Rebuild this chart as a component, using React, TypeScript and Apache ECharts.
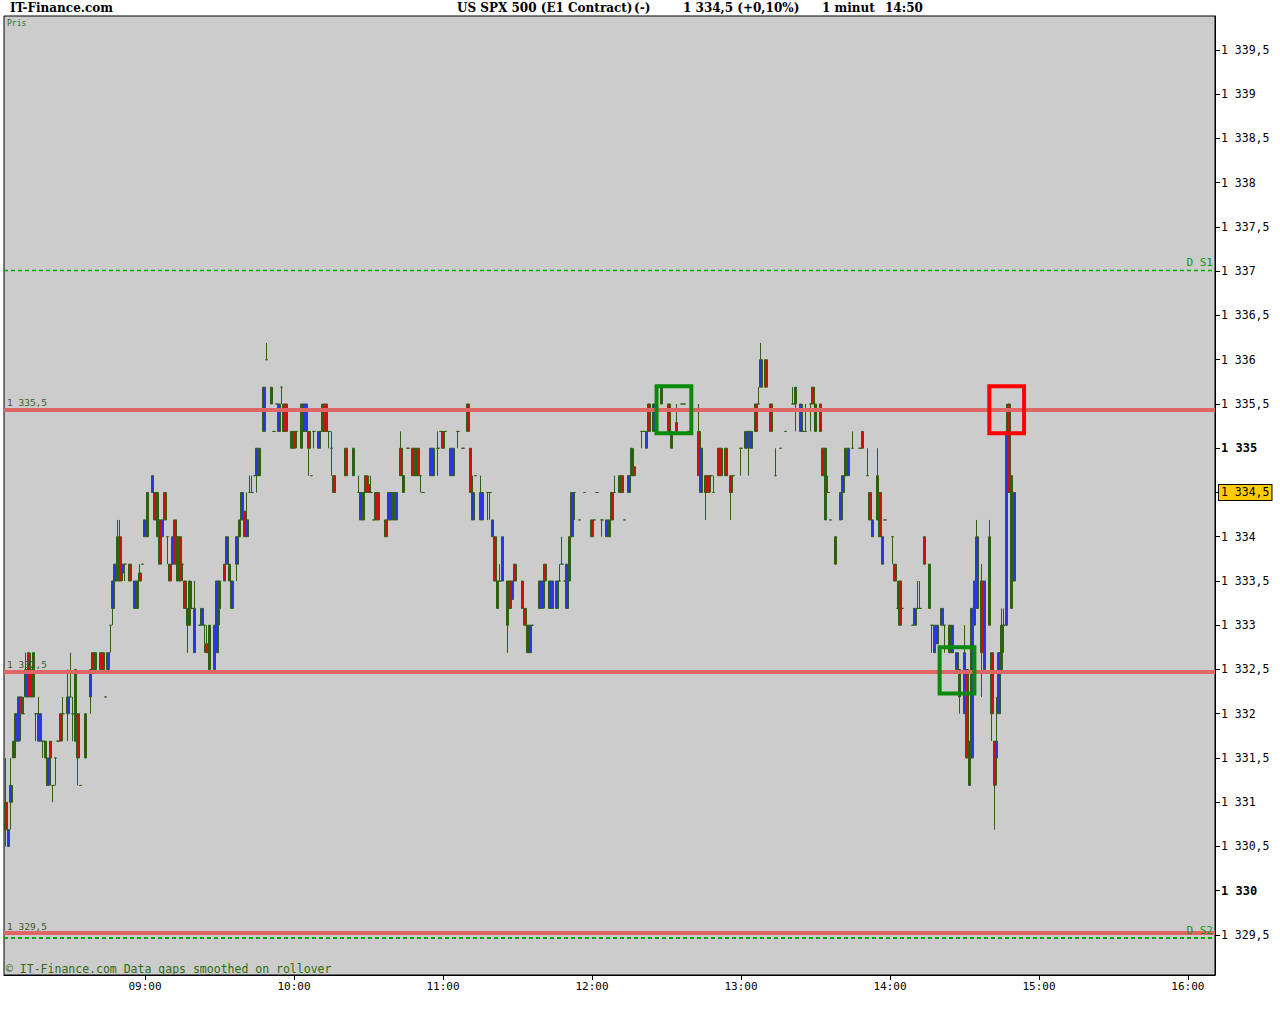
import React, { useEffect, useRef } from "react";
import * as echarts from "echarts";

// [time, open, close, low, high]
const bars0800: [string, number, number, number, number][] = [
  ["08:04", 1331.0, 1330.69, 1330.5, 1331.5],
  ["08:05", 1330.5, 1330.69, 1330.5, 1330.69],
  ["08:06", 1331.0, 1331.19, 1330.69, 1331.5],
  ["08:07", 1331.5, 1331.69, 1331.5, 1331.69],
  ["08:08", 1331.69, 1332.0, 1331.5, 1332.0],
  ["08:09", 1331.69, 1332.19, 1331.69, 1332.19],
  ["08:10", 1332.19, 1332.0, 1331.69, 1332.19],
  ["08:11", 1332.0, 1332.0, 1332.0, 1332.19],
  ["08:12", 1332.19, 1332.5, 1332.19, 1332.69],
  ["08:13", 1332.69, 1332.19, 1332.19, 1332.69],
  ["08:14", 1332.5, 1332.19, 1332.19, 1332.69],
  ["08:15", 1332.69, 1332.19, 1332.19, 1332.69],
  ["08:16", 1332.0, 1332.0, 1331.69, 1332.0],
  ["08:17", 1331.69, 1332.0, 1331.69, 1332.19],
  ["08:18", 1331.69, 1332.0, 1331.69, 1332.0],
  ["08:19", 1331.69, 1331.69, 1331.5, 1331.69],
  ["08:20", 1331.69, 1331.5, 1331.5, 1331.69],
  ["08:21", 1331.19, 1331.5, 1331.19, 1331.5],
  ["08:22", 1331.69, 1331.5, 1331.19, 1331.69],
  ["08:23", 1331.19, 1331.19, 1331.0, 1331.19],
  ["08:24", 1331.5, 1331.5, 1331.19, 1331.5],
  ["08:25", 1331.69, 1331.69, 1331.69, 1331.69],
  ["08:26", 1332.0, 1331.69, 1331.69, 1332.0],
  ["08:27", 1332.0, 1332.0, 1331.69, 1332.19],
  ["08:29", 1332.0, 1332.19, 1331.69, 1332.5],
  ["08:30", 1332.19, 1332.19, 1332.19, 1332.69],
  ["08:31", 1332.0, 1332.0, 1331.69, 1332.19],
  ["08:32", 1332.5, 1331.69, 1331.69, 1332.5],
  ["08:33", 1332.0, 1331.5, 1331.19, 1332.0],
  ["08:34", 1331.19, 1331.19, 1331.19, 1331.19],
  ["08:36", 1331.5, 1332.0, 1331.5, 1332.0],
  ["08:38", 1332.19, 1332.5, 1332.0, 1332.5],
  ["08:39", 1332.69, 1332.5, 1332.5, 1332.69],
  ["08:40", 1332.69, 1332.5, 1332.5, 1332.69],
  ["08:42", 1332.69, 1332.5, 1332.5, 1332.69],
  ["08:43", 1332.69, 1332.5, 1332.5, 1332.69],
  ["08:44", 1332.19, 1332.19, 1332.19, 1332.19],
  ["08:45", 1332.5, 1332.69, 1332.5, 1332.69],
  ["08:46", 1333.0, 1333.0, 1332.69, 1333.0],
  ["08:47", 1333.19, 1333.5, 1333.0, 1333.5],
  ["08:48", 1333.5, 1333.69, 1333.5, 1333.69],
  ["08:49", 1334.0, 1333.5, 1333.5, 1334.19],
  ["08:50", 1334.0, 1333.5, 1333.5, 1334.19],
  ["08:51", 1333.59, 1333.69, 1333.5, 1333.69],
  ["08:52", 1333.69, 1333.69, 1333.5, 1333.69],
  ["08:54", 1333.69, 1333.5, 1333.5, 1333.69],
  ["08:56", 1333.19, 1333.5, 1333.19, 1333.5],
  ["08:57", 1333.19, 1333.5, 1333.19, 1333.5],
  ["08:58", 1333.59, 1333.5, 1333.5, 1333.69],
  ["08:59", 1333.69, 1333.69, 1333.69, 1333.69],
];

const bars0900: [string, number, number, number, number][] = [
  ["09:00", 1334.0, 1334.19, 1334.0, 1334.19],
  ["09:01", 1334.5, 1334.0, 1334.0, 1334.5],
  ["09:03", 1334.5, 1334.69, 1334.5, 1334.69],
  ["09:04", 1334.5, 1334.19, 1334.19, 1334.5],
  ["09:05", 1334.5, 1334.0, 1334.0, 1334.5],
  ["09:06", 1334.19, 1333.69, 1333.69, 1334.19],
  ["09:07", 1334.0, 1334.19, 1334.0, 1334.19],
  ["09:08", 1334.5, 1334.19, 1334.19, 1334.5],
  ["09:09", 1334.0, 1334.0, 1333.69, 1334.0],
  ["09:10", 1333.69, 1333.5, 1333.5, 1333.69],
  ["09:11", 1333.69, 1334.0, 1333.69, 1334.0],
  ["09:12", 1334.19, 1333.69, 1333.69, 1334.19],
  ["09:13", 1334.0, 1333.5, 1333.5, 1334.0],
  ["09:14", 1334.0, 1333.5, 1333.5, 1334.0],
  ["09:15", 1333.69, 1333.69, 1333.5, 1333.69],
  ["09:16", 1333.5, 1333.19, 1333.19, 1333.5],
  ["09:17", 1333.0, 1333.19, 1332.69, 1333.19],
  ["09:18", 1333.5, 1333.0, 1333.0, 1333.5],
  ["09:19", 1333.19, 1333.19, 1333.19, 1333.5],
  ["09:20", 1332.69, 1333.19, 1332.69, 1333.5],
  ["09:22", 1333.0, 1333.0, 1333.0, 1333.0],
  ["09:23", 1333.0, 1333.19, 1333.0, 1333.19],
  ["09:24", 1333.0, 1333.0, 1332.69, 1333.0],
  ["09:25", 1332.79, 1332.69, 1332.69, 1333.0],
  ["09:26", 1332.5, 1333.0, 1332.5, 1333.0],
  ["09:28", 1332.5, 1333.0, 1332.5, 1333.0],
  ["09:29", 1332.69, 1333.5, 1332.69, 1333.5],
  ["09:30", 1333.19, 1333.5, 1333.0, 1333.5],
  ["09:32", 1333.69, 1333.5, 1333.5, 1333.69],
  ["09:33", 1333.69, 1334.0, 1333.69, 1334.0],
  ["09:34", 1333.69, 1333.5, 1333.5, 1333.69],
  ["09:35", 1333.19, 1333.5, 1333.19, 1333.5],
  ["09:37", 1333.69, 1334.0, 1333.5, 1334.0],
  ["09:38", 1334.0, 1334.19, 1334.0, 1334.19],
  ["09:39", 1334.19, 1334.5, 1334.19, 1334.5],
  ["09:40", 1334.29, 1334.0, 1334.0, 1334.29],
  ["09:41", 1334.0, 1334.19, 1334.0, 1334.5],
  ["09:42", 1334.5, 1334.5, 1334.5, 1334.69],
  ["09:43", 1334.5, 1334.5, 1334.5, 1334.69],
  ["09:44", 1334.69, 1334.69, 1334.69, 1334.69],
  ["09:45", 1334.69, 1335.0, 1334.5, 1335.0],
  ["09:46", 1334.69, 1335.0, 1334.69, 1335.0],
  ["09:48", 1335.19, 1335.69, 1335.19, 1335.69],
  ["09:49", 1336.0, 1336.0, 1336.0, 1336.19],
  ["09:51", 1335.69, 1335.5, 1335.5, 1335.69],
  ["09:52", 1335.19, 1335.19, 1335.19, 1335.19],
  ["09:53", 1335.5, 1335.5, 1335.5, 1335.5],
  ["09:54", 1335.19, 1335.5, 1335.19, 1335.5],
  ["09:55", 1335.69, 1335.69, 1335.5, 1335.69],
  ["09:56", 1335.5, 1335.19, 1335.19, 1335.5],
  ["09:57", 1335.5, 1335.19, 1335.19, 1335.5],
  ["09:59", 1335.19, 1335.0, 1335.0, 1335.19],
];

const bars1000: [string, number, number, number, number][] = [
  ["10:00", 1335.19, 1335.0, 1335.0, 1335.19],
  ["10:01", 1335.19, 1335.19, 1335.0, 1335.19],
  ["10:03", 1335.5, 1335.0, 1335.0, 1335.5],
  ["10:04", 1335.19, 1335.5, 1335.19, 1335.5],
  ["10:05", 1335.19, 1335.5, 1335.19, 1335.5],
  ["10:06", 1335.19, 1335.0, 1334.69, 1335.19],
  ["10:07", 1334.69, 1334.69, 1334.69, 1334.69],
  ["10:08", 1335.19, 1335.19, 1335.0, 1335.19],
  ["10:10", 1335.0, 1335.19, 1335.0, 1335.19],
  ["10:11", 1335.19, 1335.19, 1335.19, 1335.5],
  ["10:12", 1335.5, 1335.19, 1335.19, 1335.5],
  ["10:13", 1335.5, 1335.19, 1335.19, 1335.5],
  ["10:14", 1335.19, 1335.19, 1335.0, 1335.19],
  ["10:15", 1335.0, 1335.0, 1334.69, 1335.19],
  ["10:16", 1334.69, 1334.5, 1334.5, 1334.69],
  ["10:21", 1335.0, 1334.69, 1334.69, 1335.0],
  ["10:24", 1335.0, 1334.69, 1334.69, 1335.0],
  ["10:26", 1334.5, 1334.5, 1334.5, 1334.69],
  ["10:27", 1334.19, 1334.5, 1334.19, 1334.5],
  ["10:28", 1334.19, 1334.5, 1334.19, 1334.5],
  ["10:29", 1334.69, 1334.5, 1334.5, 1334.69],
  ["10:30", 1334.59, 1334.5, 1334.5, 1334.69],
  ["10:31", 1334.5, 1334.5, 1334.5, 1334.69],
  ["10:32", 1334.19, 1334.19, 1334.19, 1334.19],
  ["10:33", 1334.5, 1334.19, 1334.19, 1334.5],
  ["10:34", 1334.5, 1334.19, 1334.19, 1334.5],
  ["10:37", 1334.19, 1334.0, 1334.0, 1334.19],
  ["10:38", 1334.19, 1334.5, 1334.19, 1334.5],
  ["10:39", 1334.19, 1334.5, 1334.19, 1334.5],
  ["10:40", 1334.19, 1334.5, 1334.19, 1334.5],
  ["10:41", 1334.19, 1334.5, 1334.19, 1334.5],
  ["10:43", 1335.0, 1334.69, 1334.69, 1335.19],
  ["10:44", 1334.5, 1334.69, 1334.5, 1334.69],
  ["10:46", 1335.0, 1335.0, 1335.0, 1335.0],
  ["10:48", 1335.0, 1334.69, 1334.69, 1335.0],
  ["10:49", 1335.0, 1334.69, 1334.69, 1335.0],
  ["10:50", 1335.0, 1334.69, 1334.69, 1335.0],
  ["10:51", 1334.69, 1334.69, 1334.5, 1334.69],
  ["10:52", 1334.5, 1334.5, 1334.5, 1334.5],
  ["10:55", 1334.69, 1335.0, 1334.69, 1335.0],
  ["10:56", 1334.69, 1335.0, 1334.69, 1335.0],
  ["10:58", 1335.0, 1335.0, 1334.69, 1335.19],
  ["10:59", 1335.19, 1335.19, 1335.19, 1335.19],
];

const bars1100: [string, number, number, number, number][] = [
  ["11:00", 1335.19, 1335.0, 1335.0, 1335.19],
  ["11:01", 1335.19, 1335.19, 1335.19, 1335.19],
  ["11:03", 1334.69, 1335.0, 1334.69, 1335.0],
  ["11:04", 1334.69, 1335.0, 1334.69, 1335.0],
  ["11:06", 1335.19, 1335.19, 1335.0, 1335.19],
  ["11:08", 1335.0, 1335.0, 1335.0, 1335.0],
  ["11:10", 1335.5, 1335.19, 1335.19, 1335.5],
  ["11:11", 1335.0, 1334.5, 1334.5, 1335.0],
  ["11:12", 1334.19, 1334.5, 1334.19, 1334.69],
  ["11:13", 1334.69, 1334.69, 1334.69, 1334.69],
  ["11:15", 1334.19, 1334.5, 1334.19, 1334.69],
  ["11:16", 1334.19, 1334.5, 1334.19, 1334.5],
  ["11:18", 1334.5, 1334.5, 1334.19, 1334.5],
  ["11:19", 1334.5, 1334.5, 1334.19, 1334.5],
  ["11:20", 1334.0, 1334.19, 1334.0, 1334.19],
  ["11:21", 1334.0, 1333.5, 1333.5, 1334.0],
  ["11:22", 1333.19, 1333.5, 1333.19, 1333.5],
  ["11:23", 1333.5, 1333.5, 1333.5, 1333.69],
  ["11:24", 1333.5, 1334.0, 1333.5, 1334.0],
  ["11:26", 1333.5, 1333.0, 1332.69, 1333.5],
  ["11:27", 1333.5, 1333.19, 1333.19, 1333.5],
  ["11:28", 1333.29, 1333.5, 1333.29, 1333.5],
  ["11:29", 1333.69, 1333.5, 1333.5, 1333.69],
  ["11:32", 1333.5, 1333.19, 1333.19, 1333.5],
  ["11:33", 1333.19, 1333.0, 1333.0, 1333.19],
  ["11:34", 1332.69, 1333.0, 1332.69, 1333.0],
  ["11:35", 1332.69, 1333.0, 1332.69, 1333.0],
  ["11:36", 1333.0, 1333.0, 1333.0, 1333.0],
  ["11:39", 1333.19, 1333.5, 1333.19, 1333.5],
  ["11:40", 1333.19, 1333.5, 1333.19, 1333.5],
  ["11:41", 1333.69, 1333.5, 1333.19, 1333.69],
  ["11:43", 1333.19, 1333.5, 1333.19, 1333.5],
  ["11:44", 1333.19, 1333.5, 1333.19, 1333.5],
  ["11:46", 1333.19, 1333.5, 1333.19, 1333.5],
  ["11:47", 1333.5, 1333.5, 1333.5, 1333.69],
  ["11:48", 1333.69, 1333.69, 1333.69, 1334.0],
  ["11:49", 1333.5, 1333.5, 1333.5, 1333.5],
  ["11:50", 1333.19, 1333.69, 1333.19, 1333.69],
  ["11:51", 1334.0, 1333.5, 1333.5, 1334.0],
  ["11:52", 1334.0, 1334.5, 1334.0, 1334.5],
  ["11:53", 1334.5, 1334.5, 1334.19, 1334.5],
  ["11:55", 1334.19, 1334.19, 1334.19, 1334.19],
  ["11:57", 1334.5, 1334.5, 1334.5, 1334.5],
];

const bars1200: [string, number, number, number, number][] = [
  ["12:00", 1334.19, 1334.0, 1334.0, 1334.19],
  ["12:01", 1334.19, 1334.19, 1334.19, 1334.19],
  ["12:02", 1334.5, 1334.5, 1334.5, 1334.5],
  ["12:04", 1334.19, 1334.19, 1334.0, 1334.19],
  ["12:06", 1334.0, 1334.19, 1334.0, 1334.19],
  ["12:07", 1334.0, 1334.19, 1334.0, 1334.19],
  ["12:08", 1334.5, 1334.19, 1334.19, 1334.5],
  ["12:09", 1334.5, 1334.5, 1334.5, 1334.69],
  ["12:11", 1334.69, 1334.5, 1334.5, 1334.69],
  ["12:12", 1334.69, 1334.5, 1334.5, 1334.69],
  ["12:13", 1334.19, 1334.19, 1334.19, 1334.19],
  ["12:15", 1334.5, 1334.69, 1334.5, 1334.69],
  ["12:16", 1335.0, 1334.69, 1334.69, 1335.0],
  ["12:17", 1334.79, 1334.69, 1334.69, 1335.0],
  ["12:20", 1335.19, 1335.19, 1335.0, 1335.19],
  ["12:21", 1335.19, 1335.19, 1335.19, 1335.19],
  ["12:22", 1335.0, 1335.19, 1335.0, 1335.19],
  ["12:23", 1335.5, 1335.19, 1335.19, 1335.5],
  ["12:25", 1335.19, 1335.5, 1335.19, 1335.5],
  ["12:26", 1335.5, 1335.5, 1335.5, 1335.5],
  ["12:28", 1335.5, 1335.69, 1335.5, 1335.69],
  ["12:31", 1335.5, 1335.19, 1335.19, 1335.5],
  ["12:32", 1335.0, 1335.19, 1335.0, 1335.19],
  ["12:34", 1335.29, 1335.19, 1335.19, 1335.5],
  ["12:36", 1335.5, 1335.5, 1335.5, 1335.5],
  ["12:37", 1335.5, 1335.5, 1335.5, 1335.5],
  ["12:39", 1335.19, 1335.19, 1335.19, 1335.19],
  ["12:43", 1335.19, 1334.69, 1334.69, 1335.5],
  ["12:44", 1334.5, 1335.0, 1334.5, 1335.0],
  ["12:46", 1334.69, 1334.5, 1334.19, 1334.69],
  ["12:47", 1334.69, 1334.5, 1334.5, 1334.69],
  ["12:48", 1334.69, 1334.69, 1334.5, 1334.69],
  ["12:49", 1334.5, 1334.5, 1334.5, 1334.69],
  ["12:51", 1335.0, 1334.69, 1334.69, 1335.0],
  ["12:52", 1335.0, 1334.69, 1334.69, 1335.0],
  ["12:54", 1335.0, 1334.69, 1334.69, 1335.0],
  ["12:56", 1334.69, 1334.5, 1334.19, 1334.69],
  ["12:57", 1334.69, 1334.69, 1334.69, 1334.69],
];

const bars1300: [string, number, number, number, number][] = [
  ["13:00", 1335.0, 1335.0, 1334.69, 1335.0],
  ["13:02", 1335.0, 1335.19, 1335.0, 1335.19],
  ["13:03", 1335.19, 1335.19, 1334.69, 1335.19],
  ["13:04", 1335.0, 1335.19, 1335.0, 1335.19],
  ["13:06", 1335.5, 1335.19, 1335.19, 1335.5],
  ["13:07", 1335.5, 1335.5, 1335.5, 1335.69],
  ["13:08", 1335.69, 1336.0, 1335.69, 1336.19],
  ["13:10", 1336.0, 1335.69, 1335.69, 1336.0],
  ["13:12", 1335.5, 1335.19, 1335.19, 1335.5],
  ["13:14", 1334.69, 1334.69, 1334.69, 1335.0],
  ["13:16", 1335.0, 1335.0, 1335.0, 1335.0],
  ["13:18", 1335.19, 1335.19, 1335.19, 1335.19],
  ["13:21", 1335.5, 1335.5, 1335.5, 1335.69],
  ["13:22", 1335.69, 1335.5, 1335.19, 1335.69],
  ["13:24", 1335.19, 1335.5, 1335.19, 1335.5],
  ["13:25", 1335.19, 1335.19, 1335.19, 1335.5],
  ["13:26", 1335.19, 1335.19, 1335.19, 1335.5],
  ["13:28", 1335.5, 1335.5, 1335.19, 1335.5],
  ["13:29", 1335.69, 1335.5, 1335.5, 1335.69],
  ["13:30", 1335.19, 1335.5, 1335.19, 1335.5],
  ["13:32", 1335.5, 1335.19, 1335.19, 1335.5],
  ["13:33", 1335.0, 1334.69, 1334.69, 1335.0],
  ["13:34", 1335.0, 1334.19, 1334.19, 1335.0],
  ["13:35", 1334.5, 1334.5, 1334.5, 1334.69],
  ["13:36", 1334.19, 1334.19, 1334.19, 1334.19],
  ["13:38", 1333.69, 1334.0, 1333.69, 1334.0],
  ["13:40", 1334.19, 1334.5, 1334.19, 1334.5],
  ["13:41", 1334.5, 1334.69, 1334.19, 1334.69],
  ["13:42", 1334.69, 1335.0, 1334.69, 1335.0],
  ["13:43", 1334.69, 1335.0, 1334.69, 1335.0],
  ["13:45", 1335.0, 1335.0, 1335.0, 1335.19],
  ["13:48", 1335.0, 1335.0, 1335.0, 1335.0],
  ["13:49", 1335.19, 1335.0, 1335.0, 1335.19],
  ["13:51", 1334.69, 1334.69, 1334.69, 1335.0],
  ["13:52", 1334.5, 1334.19, 1334.19, 1334.5],
  ["13:53", 1334.0, 1334.19, 1334.0, 1334.19],
  ["13:55", 1334.19, 1334.69, 1334.19, 1335.0],
  ["13:56", 1334.5, 1334.0, 1334.0, 1334.5],
  ["13:57", 1333.69, 1334.0, 1333.69, 1334.0],
  ["13:58", 1334.19, 1334.19, 1334.19, 1334.19],
];

const bars1400: [string, number, number, number, number][] = [
  ["14:01", 1334.0, 1334.0, 1333.69, 1334.0],
  ["14:02", 1333.69, 1333.5, 1333.5, 1333.69],
  ["14:03", 1333.19, 1333.19, 1333.19, 1333.5],
  ["14:04", 1333.5, 1333.0, 1333.0, 1333.5],
  ["14:05", 1333.19, 1333.19, 1333.19, 1333.19],
  ["14:09", 1333.0, 1333.0, 1333.0, 1333.0],
  ["14:10", 1333.0, 1333.19, 1333.0, 1333.19],
  ["14:11", 1333.19, 1333.19, 1333.19, 1333.5],
  ["14:12", 1333.19, 1333.19, 1333.19, 1333.5],
  ["14:14", 1334.0, 1333.69, 1333.69, 1334.0],
  ["14:16", 1333.69, 1333.19, 1333.19, 1333.69],
  ["14:17", 1333.0, 1333.0, 1332.69, 1333.0],
  ["14:18", 1332.69, 1333.0, 1332.69, 1333.0],
  ["14:19", 1332.79, 1333.0, 1332.79, 1333.0],
  ["14:21", 1333.0, 1333.19, 1333.0, 1333.19],
  ["14:22", 1333.0, 1333.0, 1332.69, 1333.0],
  ["14:24", 1332.69, 1333.0, 1332.69, 1333.0],
  ["14:25", 1332.69, 1333.0, 1332.69, 1333.0],
  ["14:27", 1332.5, 1332.69, 1332.5, 1332.69],
  ["14:28", 1332.5, 1332.19, 1332.0, 1332.5],
  ["14:30", 1332.0, 1332.69, 1332.0, 1333.0],
  ["14:31", 1332.5, 1331.5, 1331.5, 1332.5],
  ["14:32", 1331.19, 1331.69, 1331.19, 1331.69],
  ["14:33", 1331.5, 1333.19, 1331.5, 1333.19],
  ["14:34", 1333.0, 1333.5, 1333.0, 1333.5],
  ["14:35", 1333.19, 1334.0, 1333.19, 1334.19],
  ["14:37", 1333.5, 1332.69, 1332.19, 1333.69],
  ["14:38", 1332.5, 1333.5, 1332.5, 1333.5],
  ["14:40", 1334.0, 1333.0, 1333.0, 1334.19],
  ["14:41", 1332.69, 1332.0, 1331.69, 1332.69],
  ["14:42", 1331.69, 1331.19, 1330.69, 1331.69],
  ["14:43", 1331.5, 1331.69, 1331.19, 1332.19],
  ["14:44", 1332.0, 1332.69, 1332.0, 1332.69],
  ["14:45", 1332.5, 1333.0, 1332.5, 1333.19],
  ["14:46", 1333.0, 1333.0, 1332.69, 1333.19],
  ["14:47", 1333.0, 1335.19, 1333.0, 1335.5],
  ["14:48", 1335.5, 1334.5, 1334.5, 1335.5],
  ["14:49", 1334.69, 1333.19, 1333.19, 1334.69],
  ["14:50", 1333.5, 1334.5, 1333.5, 1334.5],
];

const timeTicks = ["09:00", "10:00", "11:00", "12:00", "13:00", "14:00", "15:00", "16:00"];
const priceTicks = [
  1329.5, 1330, 1330.5, 1331, 1331.5, 1332, 1332.5, 1333, 1333.5, 1334, 1334.5, 1335,
  1335.5, 1336, 1336.5, 1337, 1337.5, 1338, 1338.5, 1339, 1339.5,
];
const resistanceLevels = [1335.44, 1332.48, 1329.52];
const pivotLevels = [1337.01, 1329.47];
const pivotNames = ["D S1", "D S2"];
const lastPrice = 1334.5;
const lastChange = "+0,10%";
// [from, to, top price, bottom price]
const highlightBoxes: [string, string, number, number][] = [
  ["12:26", "12:40", 1335.7, 1335.17],
  ["14:20", "14:34", 1332.75, 1332.23],
  ["14:40", "14:54", 1335.7, 1335.17],
];
const boxColors = ["#0a8a0a", "#0a8a0a", "#ff0000"];

const toMin = (s: string) => {
  const [h, m] = s.split(":").map(Number);
  return h * 60 + m;
};
const fmtPrice = (v: number) => {
  const r = Math.round(v * 2) / 2;
  const ip = Math.floor(r);
  const th = Math.floor(ip / 1000);
  const rest = String(ip % 1000).padStart(3, "0");
  return `${th} ${rest}${r - ip > 0 ? ",5" : ""}`;
};
const fmtTime = (v: number) =>
  `${String(Math.floor(v / 60)).padStart(2, "0")}:${String(Math.round(v % 60)).padStart(2, "0")}`;

const MONO = "'DejaVu Sans Mono', monospace";
const SERIF = "'DejaVu Serif', serif";

export default function App() {
  const ref = useRef<HTMLDivElement>(null);
  useEffect(() => {
    if (!ref.current) return;
    const chart = echarts.init(ref.current, undefined, { renderer: "svg" });
    const allBars = [...bars0800, ...bars0900, ...bars1000, ...bars1100, ...bars1200, ...bars1300, ...bars1400];
    const candles = allBars.map(([t, o, c, l, h]) => [toMin(t), o, c, l, h]);
    const tickMinutes = timeTicks.map(toMin);
    const green = "#2f5f12";

    const resistLines = resistanceLevels.map((y) => ({
      yAxis: y,
      lineStyle: { color: "#e06666", width: 4, type: "solid" },
      label: {
        show: true,
        position: "insideStartTop",
        formatter: fmtPrice(y),
        color: "#3c5a2a",
        fontFamily: MONO,
        fontSize: 9.5,
        distance: [3, 2],
      },
    }));
    const pivotLines = pivotLevels.map((y, i) => ({
      yAxis: y,
      lineStyle: { color: "#00a800", width: i === 0 ? 1.3 : 2, type: [4, 3], opacity: 1 },
      label: {
        show: true,
        position: "insideEndTop",
        formatter: pivotNames[i],
        color: "#119911",
        fontFamily: MONO,
        fontSize: 11,
        distance: [2, 2],
      },
    }));
    const lastLine = {
      yAxis: lastPrice,
      lineStyle: { color: "rgba(0,0,0,0)", width: 1, type: "solid" },
      label: {
        show: true,
        position: "end",
        formatter: fmtPrice(lastPrice),
        color: "#000",
        opacity: 1,
        backgroundColor: "#ffcc00",
        borderColor: "#000",
        borderWidth: 1,
        padding: [2, 2, 1, 2],
        fontFamily: MONO,
        fontSize: 11.5,
        distance: 4,
      },
    };

    chart.setOption({
      animation: false,
      backgroundColor: "#ffffff",
      grid: {
        left: 4,
        right: 65,
        top: 16,
        bottom: 49,
        show: true,
        backgroundColor: "#cccccc",
        borderColor: "#000",
        borderWidth: 1,
      },
      xAxis: {
        type: "value",
        min: 483.2,
        max: 970.9,
        axisLine: { show: true, onZero: false, lineStyle: { color: "#000", width: 1 } },
        axisTick: { show: true, customValues: tickMinutes, length: 5, lineStyle: { color: "#000" } },
        axisLabel: {
          customValues: tickMinutes,
          formatter: (v: number) => fmtTime(v),
          color: "#000",
          fontFamily: MONO,
          fontSize: 11,
          margin: 6,
        },
        splitLine: { show: false },
      },
      yAxis: {
        type: "value",
        position: "right",
        min: 1329.048,
        max: 1339.884,
        axisLine: { show: true, onZero: false, lineStyle: { color: "#000", width: 1 } },
        axisTick: { show: true, customValues: priceTicks, length: 5, lineStyle: { color: "#000" } },
        axisLabel: {
          customValues: priceTicks,
          formatter: (v: number) => (Math.abs(v % 5) < 1e-6 ? `{b|${fmtPrice(v)}}` : fmtPrice(v)),
          color: "#000",
          fontFamily: MONO,
          fontSize: 11.5,
          margin: 6,
          rich: { b: { fontWeight: "bold", fontFamily: MONO, fontSize: 12, color: "#000" } },
        },
        splitLine: { show: false },
      },
      series: [
        {
          type: "candlestick",
          data: candles,
          encode: { x: 0, y: [1, 2, 3, 4] },
          barWidth: 3,
          itemStyle: {
            color: "#2b35e0",
            color0: "#cc1111",
            borderColor: green,
            borderColor0: green,
            borderColorDoji: green,
            borderWidth: 1,
          },
          emphasis: { disabled: true },
          markLine: {
            silent: true,
            symbol: ["none", "none"],
            animation: false,
            data: [...pivotLines, ...resistLines, lastLine],
          },
          markArea: {
            silent: true,
            z: 6,
            data: highlightBoxes.map((b, i) => [
              {
                xAxis: toMin(b[0]),
                yAxis: b[2],
                itemStyle: { color: "rgba(0,0,0,0)", borderColor: boxColors[i], borderWidth: 4 },
              },
              { xAxis: toMin(b[1]), yAxis: b[3] },
            ]),
          },
        },
      ],
      graphic: [
        { type: "text", left: 10, top: 2, style: { text: "IT-Finance.com", font: `bold 12px ${SERIF}`, fill: "#000" } },
        { type: "text", left: 457, top: 2, style: { text: "US SPX 500 (E1 Contract)", font: `bold 12px ${SERIF}`, fill: "#000" } },
        { type: "text", left: 634, top: 2, style: { text: "(-)", font: `bold 12px ${SERIF}`, fill: "#000" } },
        { type: "text", left: 683, top: 2, style: { text: `${fmtPrice(lastPrice)} (${lastChange})`, font: `bold 12px ${SERIF}`, fill: "#000" } },
        { type: "text", left: 822, top: 2, style: { text: "1 minut", font: `bold 12px ${SERIF}`, fill: "#000" } },
        { type: "text", left: 885, top: 2, style: { text: "14:50", font: `bold 12px ${SERIF}`, fill: "#000" } },
        { type: "text", left: 7, top: 19, style: { text: "Pris", font: `8px ${MONO}`, fill: "#2e6b12" } },
        {
          type: "text",
          left: 6,
          top: 963,
          style: { text: "© IT-Finance.com Data gaps smoothed on rollover", font: `11.5px ${MONO}`, fill: "#2e6b12" },
        },
      ],
    });
    return () => chart.dispose();
  }, []);
  return (
    <div
      ref={ref}
      style={{ position: "absolute", left: 0, top: 0, width: 1280, height: 1024, background: "#fff" }}
    />
  );
}
